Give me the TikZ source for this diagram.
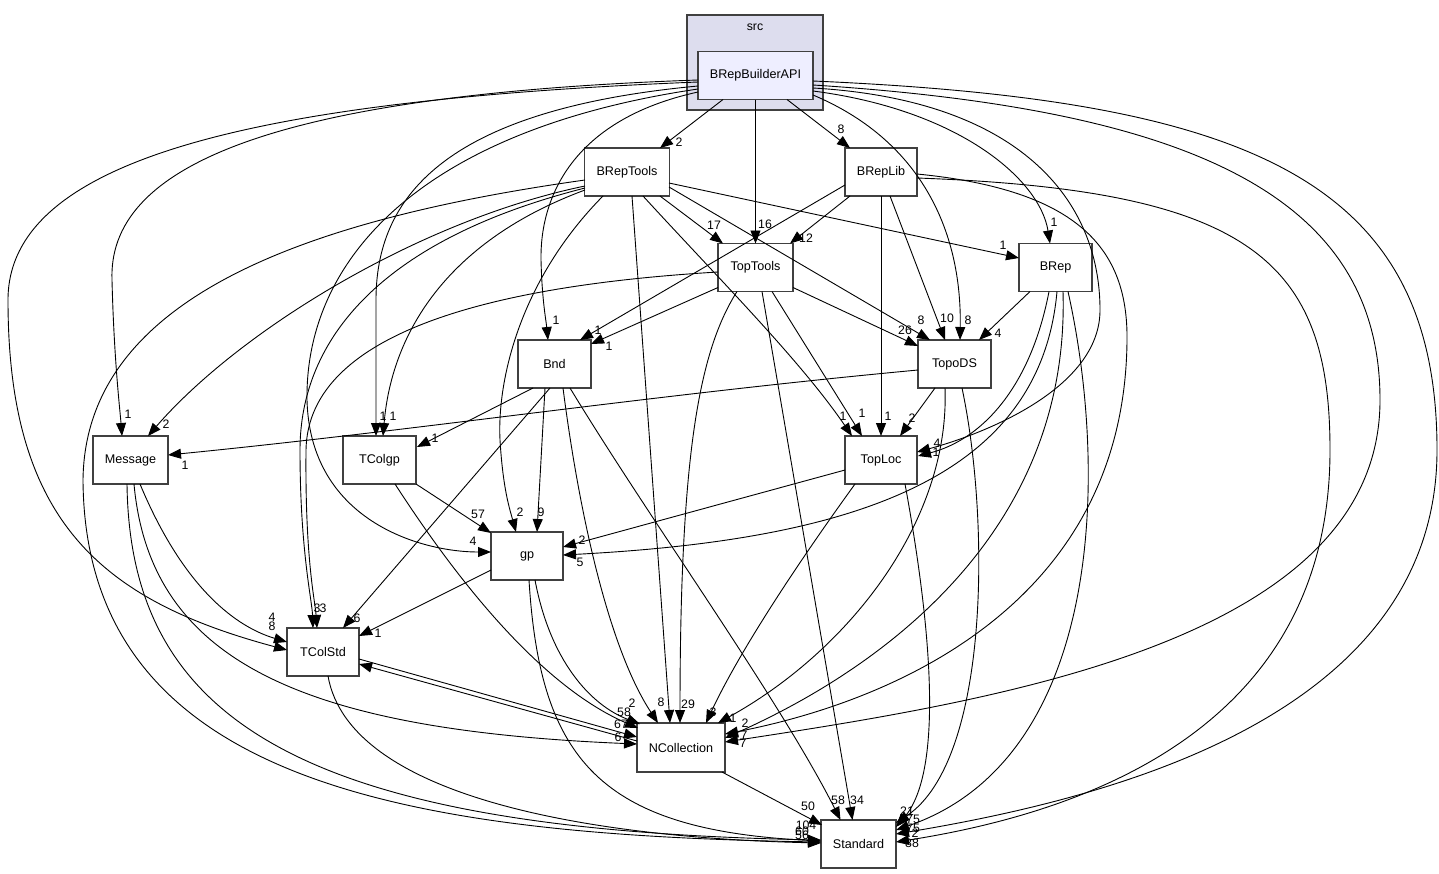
\documentclass[tikz,border=0pt]{standalone}
\usepackage{fontspec}
\setmainfont{Liberation Sans}
\usetikzlibrary{arrows.meta,calc}
\definecolor{clusterfill}{HTML}{DDDDEE}
\definecolor{mainfill}{HTML}{EEEEFF}
\definecolor{bordercol}{HTML}{404040}
\begin{document}
\begin{tikzpicture}[x=1pt,y=-1pt,
  dep/.style={-{Triangle[length=13pt,width=10pt]}, line width=0.9pt, black},
  box/.style={draw=bordercol, line width=1.4pt, fill=white, minimum height=48pt, inner sep=0pt, font=\fontsize{12.6}{14}\selectfont},
  lab/.style={inner sep=0pt, font=\fontsize{12.3}{12}\selectfont}]
\useasboundingbox (0,0) rectangle (1439,873);
\node[draw=bordercol, line width=1.4pt, fill=clusterfill, minimum width=136pt, minimum height=95pt, inner sep=0pt] (src) at (755,62.5) {};
\node[lab] (srclab) at (755,27) {src};
\node[box, fill=mainfill, minimum width=115pt] (A) at (755.5,75.5) {BRepBuilderAPI};
\node[box, minimum width=85pt] (BT) at (627,172) {BRepTools};
\node[box, minimum width=72pt] (BL) at (881,172) {BRepLib};
\node[box, minimum width=75pt] (TT) at (755.5,267.5) {TopTools};
\node[box, minimum width=73pt] (BR) at (1055.5,267.5) {BRep};
\node[box, minimum width=73pt] (BN) at (554.5,364) {Bnd};
\node[box, minimum width=73pt] (TD) at (954.5,364) {TopoDS};
\node[box, minimum width=75pt] (MS) at (130.5,460) {Message};
\node[box, minimum width=73pt] (TG) at (379.5,460) {TColgp};
\node[box, minimum width=72pt] (TL) at (881,460) {TopLoc};
\node[box, minimum width=72pt] (GP) at (527,556) {gp};
\node[box, minimum width=72pt] (TS) at (323,652) {TColStd};
\node[box, minimum width=88pt, minimum height=49pt] (NC) at (681,747.5) {NCollection};
\node[box, minimum width=75pt] (SD) at (858.5,844) {Standard};

% BRepBuilderAPI
\draw[dep] ($(A)+(-32.5,24)$) -- ($(BT)+(33,-24)$);
\draw[dep] ($(A)+(0,24)$) -- ($(TT)+(0,-24)$);
\draw[dep] ($(A)+(31.5,24)$) -- ($(BL)+(-31,-24)$);
\draw[dep] ($(A)+(-57.5,4.5)$) .. controls (260,95) and (108,170) .. (112,280) .. controls (114,360) and (120,410) .. ($(MS)+(-8.5,-24)$);
\draw[dep] ($(A)+(-57.5,6.5)$) .. controls (250,100) and (8,160) .. (8,300) .. controls (8,520) and (100,600) .. ($(TS)+(-36,-2)$);
\draw[dep] ($(A)+(-57.5,16.5)$) .. controls (570,120) and (540,200) .. (541,260) .. controls (542,300) and (546,320) .. ($(BN)+(-6.5,-24)$);
\draw[dep] ($(A)+(-57.5,10.5)$) .. controls (440,110) and (376,200) .. (376,300) .. controls (376,380) and (376,410) .. ($(TG)+(-3.5,-24)$);
\draw[dep] ($(A)+(-57.5,13.5)$) .. controls (420,130) and (305,260) .. (307,400) .. controls (310,520) and (420,552) .. ($(GP)+(-36,-4)$);
\draw[dep] ($(A)+(57.5,5.5)$) .. controls (1250,100) and (1437,180) .. (1437,450) .. controls (1437,720) and (1100,800) .. ($(SD)+(37.5,-10)$);
\draw[dep] ($(A)+(57.5,9.5)$) .. controls (1200,110) and (1380,200) .. (1380,400) .. controls (1380,640) and (1000,700) .. ($(NC)+(44,-5.5)$);
\draw[dep] ($(A)+(57.5,12.5)$) .. controls (1020,100) and (1100,200) .. (1100,310) .. controls (1100,390) and (980,435) .. ($(TL)+(36,-8)$);
\draw[dep] ($(A)+(57.5,15.5)$) .. controls (960,110) and (1040,180) .. ($(BR)+(-5.5,-24)$);
\draw[dep] ($(A)+(57.5,19.5)$) .. controls (920,140) and (962,230) .. ($(TD)+(5.5,-24)$);
% BRepTools
\draw[dep] ($(BT)+(33,24)$) -- ($(TT)+(-32.5,-24)$);
\draw[dep] ($(BT)+(42,11)$) -- ($(BR)+(-36.5,-9.5)$);
\draw[dep] ($(BT)+(42,15)$) -- ($(TD)+(-24.5,-24)$);
\draw[dep] ($(BT)+(16,24)$) .. controls (720,280) and (800,360) .. ($(TL)+(-29,-24)$);
\draw[dep] ($(BT)+(5,24)$) -- ($(NC)+(-11,-24.5)$);
\draw[dep] ($(BT)+(-42,14)$) .. controls (420,220) and (240,330) .. ($(MS)+(17.5,-24)$);
\draw[dep] ($(BT)+(-42,18)$) .. controls (450,240) and (392,330) .. ($(TG)+(3.5,-24)$);
\draw[dep] ($(BT)+(-42,16)$) .. controls (380,240) and (300,340) .. (300,450) .. controls (300,550) and (312,600) .. ($(TS)+(-10,-24)$);
\draw[dep] ($(BT)+(-42,8)$) .. controls (300,220) and (85,300) .. (83,480) .. controls (85,780) and (400,835) .. ($(SD)+(-37.5,-2)$);
\draw[dep] ($(BT)+(-24,24)$) .. controls (520,280) and (497,380) .. (500,440) .. controls (503,490) and (510,510) .. ($(GP)+(-11,-24)$);
% BRepLib
\draw[dep] ($(BL)+(-31,24)$) -- ($(TT)+(34.5,-24)$);
\draw[dep] ($(BL)+(-36,13)$) -- ($(BN)+(25.5,-24)$);
\draw[dep] ($(BL)+(0,24)$) -- ($(TL)+(0,-24)$);
\draw[dep] ($(BL)+(9,24)$) -- ($(TD)+(-9.5,-24)$);
\draw[dep] ($(BL)+(36,2)$) .. controls (1080,190) and (1128,250) .. (1127,340) .. controls (1125,600) and (900,700) .. ($(NC)+(44,-13.5)$);
\draw[dep] ($(BL)+(36,6)$) .. controls (1250,190) and (1330,260) .. (1330,450) .. controls (1330,720) and (1100,810) .. ($(SD)+(37.5,-2)$);
% TopTools
\draw[dep] ($(TT)+(-37.5,20)$) -- ($(BN)+(36.5,-20)$);
\draw[dep] ($(TT)+(37.5,20)$) -- ($(TD)+(-36.5,-18)$);
\draw[dep] ($(TT)+(16.5,24)$) -- ($(TL)+(-19,-24)$);
\draw[dep] ($(TT)+(-18.5,24)$) .. controls (700,350) and (680,450) .. ($(NC)+(-1,-24.5)$);
\draw[dep] ($(TT)+(6.5,24)$) -- ($(SD)+(-6,-24)$);
\draw[dep] ($(TT)+(-37.5,4.5)$) .. controls (500,285) and (308,330) .. (306,450) .. controls (305,560) and (315,600) .. ($(TS)+(-6,-24)$);
% BRep
\draw[dep] ($(BR)+(-25.5,24)$) -- ($(TD)+(24.5,-24)$);
\draw[dep] ($(BR)+(-6.5,24)$) .. controls (1030,390) and (980,440) .. ($(TL)+(37,-4)$);
\draw[dep] ($(BR)+(1.5,24)$) .. controls (1040,480) and (850,540) .. ($(GP)+(36,-1)$);
\draw[dep] ($(BR)+(7.5,24)$) .. controls (1070,520) and (900,660) .. ($(NC)+(44,-9.5)$);
\draw[dep] ($(BR)+(12.5,24)$) .. controls (1110,480) and (1100,760) .. ($(SD)+(37.5,-14)$);
% TopoDS
\draw[dep] ($(TD)+(-36.5,6)$) .. controls (650,395) and (420,430) .. ($(MS)+(37.5,-5)$);
\draw[dep] ($(TD)+(-19.5,24)$) -- ($(TL)+(19,-24)$);
\draw[dep] ($(TD)+(-9.5,24)$) .. controls (950,520) and (850,650) .. ($(NC)+(37,-24.5)$);
\draw[dep] ($(TD)+(7.5,24)$) .. controls (990,520) and (990,760) .. ($(SD)+(37.5,-21)$);
% TopLoc
\draw[dep] ($(TL)+(-36,10)$) -- ($(GP)+(36,-9)$);
\draw[dep] ($(TL)+(-26,24)$) .. controls (800,560) and (740,650) .. ($(NC)+(25,-24.5)$);
\draw[dep] ($(TL)+(24,24)$) .. controls (930,620) and (945,770) .. ($(SD)+(37.5,-17)$);
% Bnd
\draw[dep] ($(BN)+(-21.5,24)$) -- ($(TG)+(37.5,-13)$);
\draw[dep] ($(BN)+(-4.5,24)$) -- ($(TS)+(20,-24)$);
\draw[dep] ($(BN)+(-9.5,24)$) -- ($(GP)+(10,-24)$);
\draw[dep] ($(BN)+(8.5,24)$) .. controls (580,520) and (610,650) .. ($(NC)+(-23,-24.5)$);
\draw[dep] ($(BN)+(15.5,24)$) .. controls (650,520) and (780,700) .. ($(SD)+(-18,-24)$);
% Message
\draw[dep] ($(MS)+(9.5,24)$) .. controls (180,580) and (230,625) .. ($(TS)+(-36,-10)$);
\draw[dep] ($(MS)+(3.5,24)$) .. controls (150,660) and (300,730) .. ($(NC)+(-44,-3.5)$);
\draw[dep] ($(MS)+(-3.5,24)$) .. controls (130,720) and (300,830) .. ($(SD)+(-37.5,-4)$);
% TColgp
\draw[dep] ($(TG)+(36.5,24)$) -- ($(GP)+(-36,-23)$);
\draw[dep] ($(TG)+(15.5,24)$) .. controls (470,600) and (550,690) .. ($(NC)+(-43,-19.5)$);
% gp
\draw[dep] ($(GP)+(-36,14)$) -- ($(TS)+(36,-16)$);
\draw[dep] ($(GP)+(8,24)$) .. controls (550,660) and (590,705) .. ($(NC)+(-41,-23.5)$);
\draw[dep] ($(GP)+(2,24)$) .. controls (540,760) and (600,830) .. ($(SD)+(-37.5,-3)$);
% TColStd / NCollection
\draw[dep] ($(TS)+(36,7)$) -- ($(NC)+(-44,-10.5)$);
\draw[dep] ($(NC)+(-44,-6.5)$) -- ($(TS)+(36,12)$);
\draw[dep] ($(TS)+(5,24)$) .. controls (350,800) and (600,838) .. ($(SD)+(-37.5,-1)$);
\draw[dep] ($(NC)+(41,24.5)$) -- ($(SD)+(-36.5,-19)$);

% labels
\node[lab] (l1) at (679,142) {2};
\node[lab] (l2) at (765,224) {16};
\node[lab] (l3) at (841,129) {8};
\node[lab] (l4) at (128,414) {1};
\node[lab] (l5) at (272,626) {8};
\node[lab] (l6) at (556,320) {1};
\node[lab] (l7) at (383,416) {1};
\node[lab] (l8) at (473,541) {4};
\node[lab] (l9) at (915,833) {2};
\node[lab] (l10) at (743,743) {7};
\node[lab] (l11) at (937,443) {4};
\node[lab] (l12) at (1054,222) {1};
\node[lab] (l13) at (968,320) {8};
\node[lab] (l14) at (714,225) {17};
\node[lab] (l15) at (1003,245) {1};
\node[lab] (l16) at (921,320) {8};
\node[lab] (l17) at (843,416) {1};
\node[lab] (l18) at (688,704) {29};
\node[lab] (l19) at (166,424) {2};
\node[lab] (l20) at (393,416) {1};
\node[lab] (l21) at (317,608) {3};
\node[lab] (l22) at (806,825) {104};
\node[lab] (l23) at (520,512) {2};
\node[lab] (l24) at (806,238) {12};
\node[lab] (l25) at (598,330) {1};
\node[lab] (l26) at (888,416) {1};
\node[lab] (l27) at (947,318) {10};
\node[lab] (l28) at (745,723) {2};
\node[lab] (l29) at (912,843) {88};
\node[lab] (l30) at (609,346) {1};
\node[lab] (l31) at (905,330) {26};
\node[lab] (l32) at (862,413) {1};
\node[lab] (l33) at (857,800) {34};
\node[lab] (l34) at (323,608) {3};
\node[lab] (l35) at (998,333) {4};
\node[lab] (l36) at (936,452) {1};
\node[lab] (l37) at (580,562) {5};
\node[lab] (l38) at (744,735) {7};
\node[lab] (l39) at (913,828) {75};
\node[lab] (l40) at (185,465) {1};
\node[lab] (l41) at (912,418) {2};
\node[lab] (l42) at (733,718) {1};
\node[lab] (l43) at (907,811) {21};
\node[lab] (l44) at (582,540) {2};
\node[lab] (l45) at (713,712) {3};
\node[lab] (l46) at (913,819) {75};
\node[lab] (l47) at (435,438) {1};
\node[lab] (l48) at (357,618) {6};
\node[lab] (l49) at (541,512) {9};
\node[lab] (l50) at (661,702) {8};
\node[lab] (l51) at (838,800) {58};
\node[lab] (l52) at (272,617) {4};
\node[lab] (l53) at (618,737) {6};
\node[lab] (l54) at (802,831) {60};
\node[lab] (l55) at (478,514) {57};
\node[lab] (l56) at (624,712) {58};
\node[lab] (l57) at (378,633) {1};
\node[lab] (l58) at (632,703) {2};
\node[lab] (l59) at (802,835) {56};
\node[lab] (l60) at (621,724) {67};
\node[lab] (l61) at (808,806) {50};
\end{tikzpicture}
\end{document}
